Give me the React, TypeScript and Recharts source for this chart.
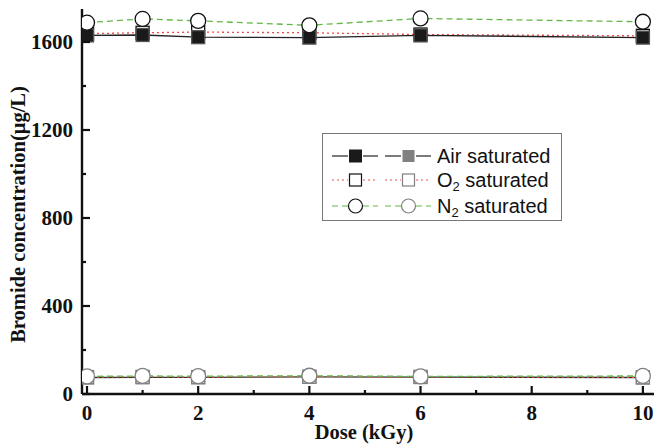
import React from 'react';
import { LineChart, Line, XAxis, YAxis } from 'recharts';

// dose points (kGy)
const doses = [0, 1, 2, 4, 6, 10];
// bromide, upper group and lower group for each gas
const airHigh = [1630, 1632, 1622, 1620, 1630, 1620];
const airLow = [75, 76, 76, 78, 77, 75];
const o2High = [1638, 1642, 1645, 1642, 1634, 1628];
const o2Low = [77, 78, 77, 79, 78, 76];
const n2High = [1688, 1705, 1696, 1676, 1707, 1692];
const n2Low = [80, 82, 81, 83, 80, 82];

const xTicks = [0, 1, 2, 3, 4, 5, 6, 7, 8, 9, 10];
const yTicks = [0, 200, 400, 600, 800, 1000, 1200, 1400, 1600];

const data = doses.map((d, i) => ({
    dose: d,
    airHigh: airHigh[i],
    airLow: airLow[i],
    o2High: o2High[i],
    o2Low: o2Low[i],
    n2High: n2High[i],
    n2Low: n2Low[i],
}));

const SERIF = '"Liberation Serif", "Times New Roman", serif';
const SANS = '"Liberation Sans", Arial, sans-serif';
const AXIS = '#111';
const RED = '#f04a4a';
const GREEN = '#62b847';
const GRAY = '#808080';
const TICK_GAP = 9;

const XTick = (props: any) => {
    const { x, y, payload } = props;
    const major = payload.value % 2 === 0;
    const axisY = y - TICK_GAP;
    return (
        <g>
            <line x1={x} x2={x} y1={axisY} y2={axisY - (major ? 8 : 4)} stroke={AXIS} strokeWidth={2.2} />
            {major && (
                <text x={x} y={y} dy="0.8em" textAnchor="middle" fontFamily={SERIF} fontWeight="bold" fontSize={21} fill={AXIS}>
                    {payload.value}
                </text>
            )}
        </g>
    );
};

const YTick = (props: any) => {
    const { x, y, payload } = props;
    const major = payload.value % 400 === 0;
    const axisX = x + TICK_GAP;
    return (
        <g>
            <line x1={axisX} x2={axisX + (major ? 8 : 4)} y1={y} y2={y} stroke={AXIS} strokeWidth={2.2} />
            {major && (
                <text x={x} y={y} dy="0.35em" textAnchor="end" fontFamily={SERIF} fontWeight="bold" fontSize={21} fill={AXIS}>
                    {payload.value}
                </text>
            )}
        </g>
    );
};

const YTitle = (props: any) => {
    const { x, y, width, height } = props.viewBox;
    const cx = x + width - 64;
    const cy = y + height / 2 + 13;
    return (
        <text x={cx} y={cy} transform={`rotate(-90 ${cx} ${cy})`} textAnchor="middle" dominantBaseline="central"
            fontFamily={SERIF} fontWeight="bold" fontSize={20.5} fill={AXIS}>
            Bromide concentration(μg/L)
        </text>
    );
};

const XTitle = (props: any) => {
    const { x, y, width } = props.viewBox;
    return (
        <text x={x + width / 2 - 4} y={y + 38} textAnchor="middle" dominantBaseline="central"
            fontFamily={SERIF} fontWeight="bold" fontSize={20.5} fill={AXIS}>
            Dose (kGy)
        </text>
    );
};

const square = (fill: string, stroke: string) => (p: any) => (
    <rect key={`sq-${p.index}`} x={p.cx - 6.5} y={p.cy - 6.5} width={13} height={13} fill={fill} stroke={stroke} strokeWidth={1.3} />
);

const circle = (stroke: string) => (p: any) => (
    <circle key={`ci-${p.index}`} cx={p.cx} cy={p.cy} r={7.5} fill="#fff" stroke={stroke} strokeWidth={1.3} />
);

// legend rows: line - marker - line, twice, then text
const LegendSymbol = ({ x, y, marker, line }: any) => (
    <g>
        <line x1={x} x2={x + 16} y1={y} y2={y} {...line} />
        {marker(x + 23.5, y)}
        <line x1={x + 31} x2={x + 46} y1={y} y2={y} {...line} />
    </g>
);

const ChartLegend = () => {
    const rows = [
        {
            y: 22, line: { stroke: '#333', strokeWidth: 1.3 },
            m1: (cx: number, cy: number) => <rect x={cx - 6.5} y={cy - 6.5} width={13} height={13} fill="#1a1a1a" />,
            m2: (cx: number, cy: number) => <rect x={cx - 6} y={cy - 6} width={12} height={12} fill={GRAY} />,
            label: <tspan>Air saturated</tspan>,
        },
        {
            y: 46, line: { stroke: RED, strokeWidth: 1.2, strokeDasharray: '2 3' },
            m1: (cx: number, cy: number) => <rect x={cx - 6} y={cy - 6} width={12} height={12} fill="#fff" stroke="#111" strokeWidth={1.2} />,
            m2: (cx: number, cy: number) => <rect x={cx - 6} y={cy - 6} width={12} height={12} fill="#fff" stroke={GRAY} strokeWidth={1.2} />,
            label: <><tspan>O</tspan><tspan fontSize={13} dy={4}>2</tspan><tspan dy={-4}> saturated</tspan></>,
        },
        {
            y: 72, line: { stroke: GREEN, strokeWidth: 1.2, strokeDasharray: '6 4' },
            m1: (cx: number, cy: number) => <circle cx={cx} cy={cy} r={7} fill="#fff" stroke="#111" strokeWidth={1.2} />,
            m2: (cx: number, cy: number) => <circle cx={cx} cy={cy} r={7} fill="#fff" stroke={GRAY} strokeWidth={1.2} />,
            label: <><tspan>N</tspan><tspan fontSize={13} dy={4}>2</tspan><tspan dy={-4}> saturated</tspan></>,
        },
    ];
    return (
        <div style={{ position: 'absolute', left: 322, top: 133, width: 238, height: 86, border: '1px solid #777', background: '#fff' }}>
            <svg width={238} height={86}>
                {rows.map((r, i) => (
                    <g key={i}>
                        <LegendSymbol x={9} y={r.y} marker={r.m1} line={r.line} />
                        <LegendSymbol x={62} y={r.y} marker={r.m2} line={r.line} />
                        <text x={114} y={r.y} dy="0.36em" fontFamily={SANS} fontSize={20} fill="#111">{r.label}</text>
                    </g>
                ))}
            </svg>
        </div>
    );
};

export default function App() {
    return (
        <div style={{ position: 'absolute', left: 0, top: 0, width: 654, height: 444, background: '#fff' }}>
            <LineChart width={654} height={444} data={data} margin={{ top: 9, right: 0, left: 22, bottom: 20 }}>
                <XAxis
                    dataKey="dose" type="number" domain={[-0.09, 10.2]} allowDataOverflow
                    ticks={xTicks} interval={0} height={30}
                    tickSize={0} tickMargin={TICK_GAP} tickLine={false}
                    axisLine={{ stroke: AXIS, strokeWidth: 2.4 }}
                    tick={<XTick />} label={<XTitle />}
                />
                <YAxis
                    type="number" domain={[0, 1750]} allowDataOverflow
                    ticks={yTicks} interval={0} width={60}
                    tickSize={0} tickMargin={TICK_GAP} tickLine={false}
                    axisLine={{ stroke: AXIS, strokeWidth: 2.4 }}
                    tick={<YTick />} label={<YTitle />}
                />
                <Line dataKey="o2High" stroke={RED} strokeWidth={1.3} strokeDasharray="2 3" isAnimationActive={false}
                    dot={square('#fff', '#111')} />
                <Line dataKey="airHigh" stroke="#222" strokeWidth={1.4} isAnimationActive={false}
                    dot={square('#1a1a1a', '#555')} />
                <Line dataKey="n2High" stroke={GREEN} strokeWidth={1.3} strokeDasharray="6 4" isAnimationActive={false}
                    dot={circle('#111')} />
                <Line dataKey="airLow" stroke="#333" strokeWidth={1.3} isAnimationActive={false}
                    dot={square(GRAY, GRAY)} />
                <Line dataKey="o2Low" stroke={RED} strokeWidth={1.3} strokeDasharray="2 3" isAnimationActive={false}
                    dot={square('#fff', GRAY)} />
                <Line dataKey="n2Low" stroke={GREEN} strokeWidth={1.3} strokeDasharray="6 4" isAnimationActive={false}
                    dot={circle(GRAY)} />
            </LineChart>
            <ChartLegend />
        </div>
    );
}
